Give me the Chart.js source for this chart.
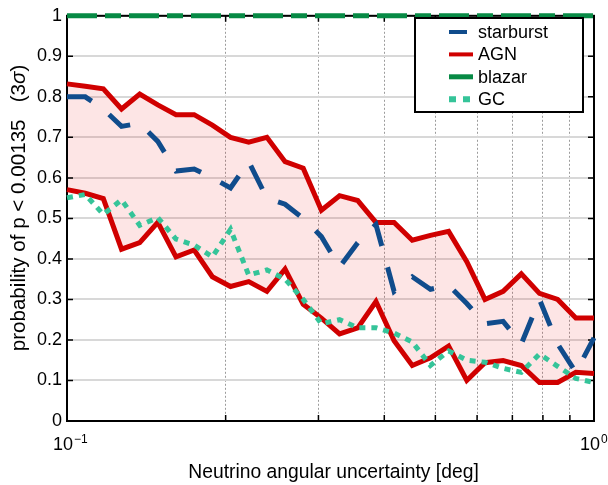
<!DOCTYPE html>
<html>
<head>
<meta charset="utf-8">
<title>p &lt; 0.00135 probability vs angular uncertainty</title>
<script src="https://cdn.jsdelivr.net/npm/chart.js@4.4.1/dist/chart.umd.min.js"></script>
<style>
  html, body { margin: 0; padding: 0; background: #fff; }
  canvas { display: block; }
</style>
</head>
<body>
<canvas id="chart" width="608" height="485"></canvas>
<script>
  // x positions (deg), 30 log-spaced samples between 0.1 and 1
  const angles = [
    0.1, 0.1083, 0.1172, 0.1269, 0.1374, 0.1487, 0.1610, 0.1743, 0.1887, 0.2043,
    0.2212, 0.2395, 0.2593, 0.2807, 0.3039, 0.3290, 0.3562, 0.3857, 0.4175, 0.4520,
    0.4894, 0.5298, 0.5736, 0.6210, 0.6723, 0.7279, 0.7880, 0.8532, 0.9237, 1.0
  ];

  const starburst = [
    0.80, 0.80, 0.77, 0.727, 0.735, 0.69, 0.617, 0.622, 0.60, 0.575,
    0.64, 0.55, 0.535, 0.50, 0.455, 0.38, 0.44, 0.485, 0.32, 0.356,
    0.325, 0.335, 0.29, 0.24, 0.246, 0.19, 0.30, 0.19, 0.12, 0.205
  ];
  const agnUpper = [
    0.832, 0.826, 0.82, 0.77, 0.807, 0.78, 0.756, 0.756, 0.73, 0.70,
    0.688, 0.70, 0.64, 0.624, 0.52, 0.556, 0.544, 0.49, 0.49, 0.446,
    0.458, 0.468, 0.393, 0.30, 0.32, 0.363, 0.315, 0.30, 0.254, 0.254
  ];
  const agnLower = [
    0.571, 0.562, 0.549, 0.424, 0.44, 0.49, 0.405, 0.422, 0.356, 0.332,
    0.344, 0.32, 0.375, 0.288, 0.254, 0.215, 0.23, 0.295, 0.198, 0.137,
    0.156, 0.185, 0.10, 0.144, 0.149, 0.137, 0.095, 0.095, 0.12, 0.117
  ];
  const blazar = [
    1, 1, 1, 1, 1, 1, 1, 1, 1, 1,
    1, 1, 1, 1, 1, 1, 1, 1, 1, 1,
    1, 1, 1, 1, 1, 1, 1, 1, 1, 1
  ];
  const gc = [
    0.551, 0.559, 0.51, 0.546, 0.483, 0.502, 0.449, 0.434, 0.405, 0.473,
    0.36, 0.373, 0.35, 0.30, 0.24, 0.25, 0.23, 0.23, 0.217, 0.195,
    0.137, 0.173, 0.15, 0.145, 0.13, 0.12, 0.165, 0.135, 0.105, 0.095
  ];

  const yTickValues = [0, 0.1, 0.2, 0.3, 0.4, 0.5, 0.6, 0.7, 0.8, 0.9, 1];
  const xTickValues = [0.1, 0.2, 0.3, 0.4, 0.5, 0.6, 0.7, 0.8, 0.9, 1];
  const xLabelValues = [0.1, 1];
  const xLabelExponents = ["\u22121", "0"];

  const FONT = '"Liberation Sans", Arial, Helvetica, sans-serif';
  const COLORS = {
    starburst: "#104c8c",
    agn: "#d00000",
    agnFill: "rgba(240, 0, 0, 0.1)",
    blazar: "#078a45",
    gc: "#35c499",
  };

  function points(values) {
    return values.map((y, i) => ({x: angles[i], y}));
  }

  function near(a, b) {
    return Math.abs(a - b) < 1e-6;
  }

  // box + inward tick marks, drawn under the lines like the original
  const framePlugin = {
    id: "frame",
    beforeDatasetsDraw(chart) {
      const {ctx, chartArea: a, scales} = chart;
      ctx.save();
      ctx.strokeStyle = "#000";
      ctx.lineWidth = 1.5;
      ctx.beginPath();
      scales.y.ticks.forEach((t) => {
        const y = scales.y.getPixelForValue(t.value);
        ctx.moveTo(a.left, y); ctx.lineTo(a.left + 6, y);
        ctx.moveTo(a.right, y); ctx.lineTo(a.right - 6, y);
      });
      scales.x.ticks.forEach((t) => {
        const x = scales.x.getPixelForValue(t.value);
        ctx.moveTo(x, a.bottom); ctx.lineTo(x, a.bottom - 6);
        ctx.moveTo(x, a.top); ctx.lineTo(x, a.top + 6);
      });
      ctx.stroke();
      ctx.lineWidth = 2;
      ctx.strokeRect(a.left, a.top, a.right - a.left, a.bottom - a.top);
      ctx.restore();
    },
  };

  const legendItems = [
    {text: "starburst", color: COLORS.starburst, dash: [18, 100], width: 4},
    {text: "AGN", color: COLORS.agn, dash: [], width: 4},
    {text: "blazar", color: COLORS.blazar, dash: [], width: 5},
    {text: "GC", color: COLORS.gc, dash: [7, 7], width: 6},
  ];

  // legend box, axis titles and the 10^n tick labels
  const textPlugin = {
    id: "texts",
    afterDraw(chart) {
      const {ctx, chartArea: a, scales} = chart;
      ctx.save();

      // legend
      const box = {x: 415, y: 18, w: 168, h: 94};
      ctx.fillStyle = "#fff";
      ctx.fillRect(box.x, box.y, box.w, box.h);
      ctx.strokeStyle = "#000";
      ctx.lineWidth = 2;
      ctx.strokeRect(box.x, box.y, box.w, box.h);
      ctx.font = "18px " + FONT;
      ctx.textBaseline = "middle";
      ctx.textAlign = "left";
      legendItems.forEach((item, i) => {
        const cy = box.y + 14 + i * 22.4;
        ctx.strokeStyle = item.color;
        ctx.lineWidth = item.width;
        ctx.setLineDash(item.dash);
        ctx.beginPath();
        ctx.moveTo(449, cy);
        ctx.lineTo(473, cy);
        ctx.stroke();
        ctx.setLineDash([]);
        ctx.fillStyle = "#000";
        ctx.fillText(item.text, 478, cy + 1);
      });

      // x tick labels 10^-1 and 10^0
      ctx.textBaseline = "alphabetic";
      ctx.fillStyle = "#000";
      xLabelValues.forEach((v, i) => {
        const x0 = scales.x.getPixelForValue(v) - 14;
        ctx.font = "18px " + FONT;
        ctx.fillText("10", x0, 450);
        const w = ctx.measureText("10").width;
        ctx.font = "12px " + FONT;
        ctx.fillText(xLabelExponents[i], x0 + w + 1, 443);
      });

      // x title
      ctx.font = "19.3px " + FONT;
      ctx.textAlign = "center";
      ctx.fillText("Neutrino angular uncertainty [deg]", (a.left + a.right) / 2 + 3, 478);

      // y title, rotated, with italic sigma
      const yFont = "20.6px " + FONT;
      const partA = "probability of p < 0.00135   (3";
      const partB = "\u03c3";
      const partC = ")";
      ctx.translate(25, 208);
      ctx.rotate(-Math.PI / 2);
      ctx.textAlign = "left";
      ctx.font = yFont;
      const wA = ctx.measureText(partA).width;
      const wC = ctx.measureText(partC).width;
      ctx.font = "italic " + yFont;
      const wB = ctx.measureText(partB).width;
      let x = -(wA + wB + wC) / 2;
      ctx.font = yFont;
      ctx.fillText(partA, x, 0);
      x += wA;
      ctx.font = "italic " + yFont;
      ctx.fillText(partB, x, 0);
      x += wB;
      ctx.font = yFont;
      ctx.fillText(partC, x, 0);

      ctx.restore();
    },
  };

  new Chart(document.getElementById("chart"), {
    type: "line",
    data: {
      datasets: [
        {
          label: "GC",
          data: points(gc),
          borderColor: COLORS.gc,
          borderWidth: 5,
          borderDash: [6, 6],
          order: 0,
        },
        {
          label: "starburst",
          data: points(starburst),
          borderColor: COLORS.starburst,
          borderWidth: 5,
          borderDash: [26, 22],
          order: 1,
        },
        {
          label: "blazar",
          data: points(blazar),
          borderColor: COLORS.blazar,
          borderWidth: 5,
          borderDash: [30, 8, 16, 8],
          order: 2,
        },
        {
          label: "AGN",
          data: points(agnUpper),
          borderColor: COLORS.agn,
          borderWidth: 5,
          order: 3,
        },
        {
          label: "AGN low",
          data: points(agnLower),
          borderColor: COLORS.agn,
          borderWidth: 5,
          backgroundColor: COLORS.agnFill,
          fill: 3,
          order: 4,
        },
      ],
    },
    options: {
      responsive: false,
      animation: false,
      devicePixelRatio: 1,
      clip: false,
      layout: {padding: {left: 0, right: 14, top: 11, bottom: 0}},
      elements: {
        point: {radius: 0, hoverRadius: 0},
        line: {tension: 0, borderCapStyle: "butt", borderJoinStyle: "miter", fill: false},
      },
      plugins: {
        legend: {display: false},
        tooltip: {enabled: false},
        filler: {drawTime: "beforeDatasetsDraw"},
      },
      scales: {
        x: {
          type: "logarithmic",
          min: 0.1,
          max: 1,
          afterFit: (scale) => { scale.height = 64; },
          afterBuildTicks: (scale) => { scale.ticks = xTickValues.map((v) => ({value: v})); },
          ticks: {display: false},
          border: {display: false, dash: [2, 2]},
          grid: {
            drawTicks: false,
            lineWidth: 1,
            color: (c) => (c.tick && (near(c.tick.value, 0.1) || near(c.tick.value, 1)) ? "rgba(0,0,0,0)" : "#9c9c9c"),
          },
        },
        y: {
          min: 0,
          max: 1,
          afterFit: (scale) => { scale.width = 67; },
          afterBuildTicks: (scale) => { scale.ticks = yTickValues.map((v) => ({value: v})); },
          ticks: {
            padding: 5,
            color: "#000",
            font: {family: FONT, size: 18},
            callback: (v) => {
              const r = Math.round(v * 10) / 10;
              return Number.isInteger(r) ? String(r) : r.toFixed(1);
            },
          },
          border: {display: false},
          grid: {drawTicks: false, lineWidth: 2, color: "#d8d8d8"},
        },
      },
    },
    plugins: [framePlugin, textPlugin],
  });
</script>
</body>
</html>
